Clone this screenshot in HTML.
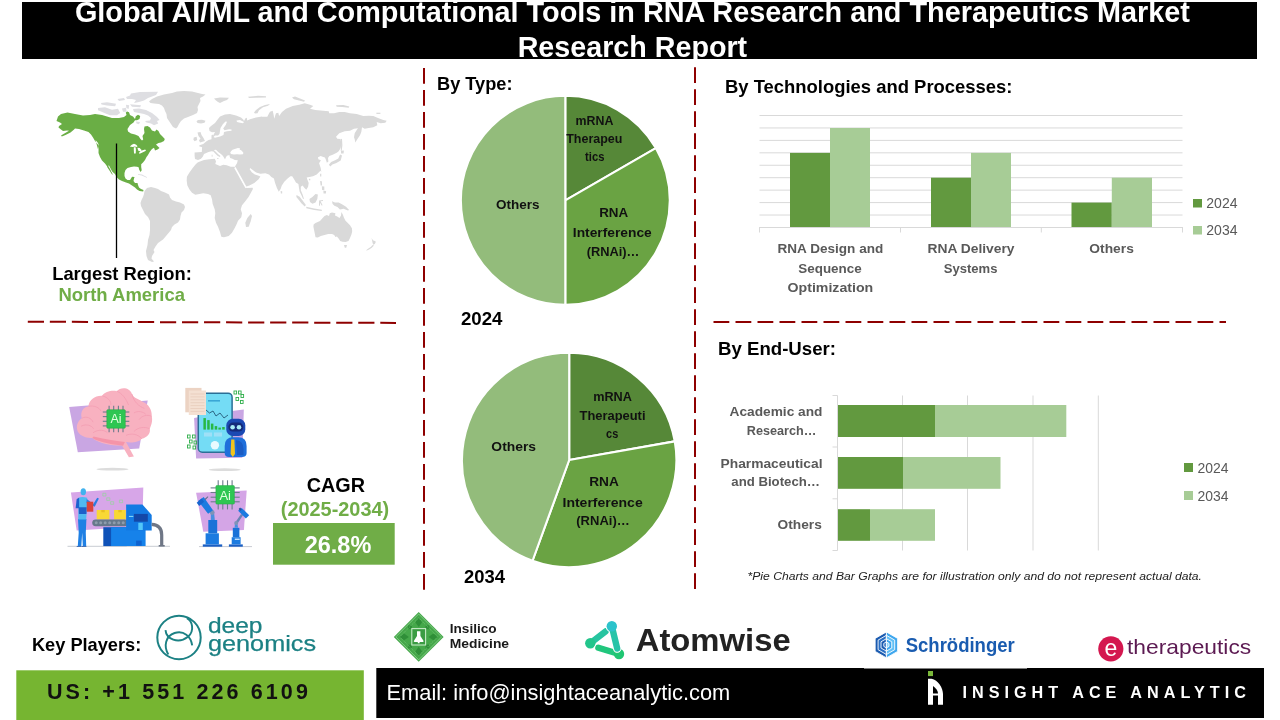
<!DOCTYPE html>
<html lang="en"><head><meta charset="utf-8"><title>Global AI/ML and Computational Tools in RNA Research and Therapeutics Market Research Report</title>
<style>
html,body{margin:0;padding:0;background:#fff;}
body{width:1280px;height:720px;overflow:hidden;}
svg{display:block;font-family:"Liberation Sans", Arial, sans-serif;}
</style></head><body>
<svg width="1280" height="720" viewBox="0 0 1280 720">
<rect x="22" y="2" width="1235" height="57" fill="#000"/>
<text x="632.4" y="22" font-size="28.8" font-weight="bold" fill="#fff" text-anchor="middle" textLength="1115" lengthAdjust="spacingAndGlyphs" >Global AI/ML and Computational Tools in RNA Research and Therapeutics Market</text>
<text x="632.4" y="57" font-size="28.8" font-weight="bold" fill="#fff" text-anchor="middle" textLength="229.5" lengthAdjust="spacingAndGlyphs" >Research Report</text>
<line x1="424" y1="68" x2="424" y2="590.4" stroke="#8e0000" stroke-width="2" stroke-dasharray="15.8 6.2"/>
<line x1="695" y1="67.3" x2="695" y2="589.5" stroke="#8e0000" stroke-width="2" stroke-dasharray="15.8 6.2"/>
<line x1="27.8" y1="321.7" x2="396" y2="322.9" stroke="#8e0000" stroke-width="2" stroke-dasharray="16.2 5.83"/>
<line x1="713.5" y1="322" x2="1226" y2="322" stroke="#8e0000" stroke-width="2" stroke-dasharray="15.8 6.2"/>
<g id="map">
<path d="M131.0,93.5 L140.0,92.0 L158.0,91.8 L156.0,95.0 L148.0,98.0 L144.0,100.5 L139.0,102.0 L134.0,103.0 L136.0,100.0 L132.0,99.0 L127.0,99.0 L126.0,97.0 L130.0,95.5Z" fill="#dedee2" />
<path d="M98.0,108.0 L105.0,107.2 L112.0,109.8 L118.0,108.8 L120.2,113.0 L117.0,115.2 L110.0,115.2 L105.0,113.2 L101.0,111.6 L98.0,110.2Z" fill="#dedee2" />
<path d="M101.0,103.0 L107.0,102.3 L116.0,103.8 L115.2,106.2 L107.0,105.6 L101.5,104.5Z" fill="#dedee2" />
<path d="M117.5,99.0 L124.0,98.0 L125.0,100.0 L119.0,101.0Z" fill="#dedee2" />
<path d="M130.0,104.3 L141.0,105.3 L140.2,107.2 L132.0,106.7Z" fill="#dedee2" />
<path d="M122.0,108.5 L126.0,107.8 L126.6,111.7 L123.0,111.7Z" fill="#dedee2" />
<path d="M126.0,104.8 L129.2,105.3 L128.6,109.0 L126.4,108.0Z" fill="#dedee2" />
<path d="M133.0,109.0 L139.0,108.4 L146.0,110.0 L152.0,113.0 L157.0,117.0 L159.6,120.0 L157.0,121.0 L158.2,123.5 L154.0,125.2 L151.0,123.6 L146.5,122.6 L145.0,121.0 L150.0,120.5 L151.0,118.0 L148.0,115.5 L144.0,114.0 L139.0,113.0 L134.0,112.0Z" fill="#dedee2" />
<path d="M136.0,121.5 L140.0,122.0 L139.0,124.2 L136.5,123.6Z" fill="#dedee2" />
<path d="M138.0,174.0 L142.0,174.6 L147.2,177.2 L146.8,177.8 L141.6,175.4 L138.0,174.8Z" fill="#dedee2" />
<path d="M149.0,101.5 L152.0,99.0 L157.0,96.5 L164.0,94.5 L172.0,93.0 L177.0,91.5 L184.0,91.0 L192.0,91.5 L198.0,93.0 L202.0,94.0 L205.5,94.5 L203.0,96.5 L200.0,98.0 L200.5,101.0 L199.0,104.0 L197.5,107.0 L198.0,110.0 L197.0,113.0 L193.0,115.0 L188.0,117.0 L184.0,118.5 L181.0,121.0 L179.0,124.0 L177.5,127.0 L176.0,128.5 L173.0,127.0 L171.0,124.0 L169.0,121.0 L167.0,118.0 L166.5,114.0 L165.0,111.0 L164.0,108.0 L162.0,105.5 L159.0,104.0 L154.0,103.5 L150.5,103.0Z" fill="#d9d9d9" />
<path d="M196.5,121.2 L198.0,120.0 L202.0,119.8 L205.5,120.8 L204.5,122.8 L201.0,123.6 L197.5,123.0Z" fill="#d9d9d9" />
<path d="M144.5,191.0 L147.0,188.0 L151.0,187.0 L155.0,188.0 L158.0,189.0 L161.0,191.0 L165.0,192.5 L169.0,194.5 L170.0,197.5 L172.0,200.0 L176.0,201.5 L180.0,202.5 L184.0,204.5 L185.0,207.0 L184.0,210.0 L181.5,212.5 L180.5,216.0 L180.0,219.5 L178.0,222.5 L174.5,224.5 L172.0,227.0 L171.0,230.0 L171.0,230.0 L166.0,236.0 L163.0,239.5 L158.0,243.0 L155.5,246.5 L153.5,250.0 L154.5,252.0 L152.0,256.0 L151.5,258.5 L154.0,261.5 L152.0,262.0 L148.0,260.0 L146.5,256.0 L146.0,251.0 L147.5,245.0 L148.0,240.0 L149.5,235.0 L150.0,230.0 L150.0,225.0 L150.0,221.0 L148.0,217.0 L145.0,214.0 L143.0,210.0 L141.0,206.0 L140.5,203.0 L141.5,200.0 L143.0,197.0 L144.0,194.0Z" fill="#d9d9d9" />
<path d="M198.7,162.0 L204.0,160.0 L209.3,159.3 L214.7,158.7 L216.0,161.3 L215.3,164.0 L220.0,166.0 L223.3,164.7 L226.7,165.3 L230.7,166.7 L234.7,166.7 L236.7,170.0 L239.3,176.0 L242.0,181.3 L244.7,186.0 L246.7,188.0 L252.7,187.7 L252.9,189.1 L251.3,192.0 L248.7,196.7 L245.3,201.3 L242.0,205.3 L240.7,209.3 L242.0,213.3 L241.3,217.3 L238.0,220.7 L236.7,224.0 L234.7,228.0 L232.0,232.7 L228.7,236.0 L224.0,237.3 L221.3,236.7 L220.0,232.0 L218.0,226.7 L216.0,222.7 L214.7,218.0 L215.3,213.3 L214.7,209.3 L212.7,204.0 L212.0,199.3 L210.7,195.3 L208.0,194.0 L203.3,193.3 L199.3,194.0 L195.3,194.7 L192.0,192.7 L189.3,189.3 L187.3,185.3 L186.7,180.7 L186.9,176.7 L189.3,172.7 L192.7,168.0 L195.3,164.7 L197.3,162.7Z" fill="#d9d9d9" />
<path d="M250.7,214.0 L252.0,216.0 L250.7,221.3 L248.7,226.7 L246.0,226.9 L245.3,222.7 L247.3,218.0Z" fill="#d9d9d9" />
<path d="M313.6,224.5 L315.5,223.0 L320.0,221.1 L322.2,218.5 L324.5,215.9 L326.8,215.1 L329.0,215.9 L329.8,213.2 L332.0,212.5 L335.4,213.2 L335.0,215.5 L337.2,216.6 L339.5,218.1 L341.0,215.5 L341.4,212.1 L342.9,214.8 L344.0,217.8 L345.5,220.8 L347.8,223.0 L350.0,225.2 L351.9,228.2 L352.2,231.2 L351.5,234.2 L350.0,238.0 L348.5,241.0 L345.5,242.1 L342.5,241.8 L340.2,241.0 L338.8,238.8 L336.9,236.5 L335.4,236.9 L334.2,235.0 L332.0,233.9 L328.2,233.9 L324.5,235.0 L320.8,236.1 L317.8,237.6 L315.5,237.2 L314.8,233.5 L314.0,229.8 L313.4,226.8Z" fill="#d9d9d9" />
<path d="M344.0,245.1 L347.0,245.1 L346.2,247.8 L344.8,247.8Z" fill="#d9d9d9" />
<path d="M371.6,238.0 L372.9,240.2 L374.8,241.0 L375.9,241.8 L374.8,244.0 L373.2,244.8 L372.5,242.5Z" fill="#d9d9d9" />
<path d="M372.6,245.1 L374.0,245.5 L371.8,247.8 L369.1,249.4 L366.9,250.6 L366.1,250.2 L368.4,248.5 L371.0,246.8Z" fill="#d9d9d9" />
<path d="M194.6,152.4 L201.8,152.0 L202.1,147.3 L199.1,146.2 L199.5,145.2 L203.2,144.1 L206.2,141.5 L208.5,140.0 L211.5,139.2 L211.5,135.5 L212.2,134.4 L213.2,135.5 L215.0,132.0 L212.0,132.2 L209.5,131.0 L209.0,128.0 L211.0,126.0 L215.0,123.0 L218.0,119.0 L220.0,116.5 L225.0,114.5 L230.0,114.0 L236.0,115.5 L241.0,117.5 L243.2,119.5 L244.0,121.0 L245.5,118.2 L246.8,117.8 L247.2,120.5 L250.0,119.2 L256.0,117.5 L262.0,116.5 L262.0,116.7 L267.3,116.7 L268.7,114.0 L270.0,111.7 L272.7,110.7 L273.6,114.7 L274.3,118.7 L275.3,115.3 L276.0,113.3 L278.3,112.7 L279.1,116.0 L282.0,112.0 L286.0,108.7 L292.7,106.0 L299.3,104.7 L304.7,103.3 L310.0,104.7 L313.3,106.0 L310.0,108.7 L315.3,110.0 L323.3,110.7 L328.7,111.3 L329.3,113.3 L334.0,113.3 L339.3,112.0 L344.7,112.0 L350.0,113.3 L356.7,114.0 L363.3,116.0 L368.7,115.7 L373.3,116.0 L378.0,118.0 L383.3,120.0 L386.7,120.7 L385.3,122.7 L380.7,123.3 L376.7,122.0 L377.3,125.3 L373.3,127.3 L368.7,128.0 L364.7,128.7 L362.0,127.3 L361.3,132.0 L360.0,135.3 L357.3,139.3 L355.3,142.4 L354.7,139.3 L354.0,137.3 L354.7,133.3 L356.7,130.0 L358.0,128.3 L354.0,128.7 L350.0,130.7 L344.7,131.3 L339.3,133.3 L336.0,136.7 L337.3,138.7 L340.4,138.9 L341.5,142.7 L340.7,148.0 L338.7,151.3 L336.7,152.7 L332.7,154.7 L329.3,156.0 L328.0,158.0 L328.4,161.6 L326.9,162.7 L325.7,159.3 L324.9,157.6 L323.3,157.1 L320.7,156.0 L318.0,157.3 L318.3,159.3 L320.9,160.3 L319.1,163.3 L320.7,168.0 L321.3,172.0 L320.4,170.8 L316.7,174.4 L313.0,176.3 L309.4,177.1 L306.7,177.5 L307.5,179.9 L308.7,183.0 L308.1,186.7 L306.3,189.8 L304.5,187.9 L302.6,185.4 L300.8,186.7 L300.8,190.3 L302.6,194.6 L304.0,198.9 L303.0,198.7 L301.4,195.2 L299.6,191.6 L299.0,187.9 L298.4,184.0 L295.9,182.4 L294.1,179.3 L292.2,176.3 L290.4,176.3 L287.3,178.7 L284.3,181.8 L281.8,185.4 L280.6,189.1 L278.8,191.8 L276.9,187.9 L275.1,183.0 L273.9,178.4 L271.4,176.9 L269.0,174.4 L265.3,173.2 L260.4,173.8 L256.2,172.6 L253.1,170.2 L250.1,168.1 L249.7,169.2 L251.7,172.2 L254.8,174.6 L258.0,175.6 L260.4,176.5 L258.6,179.3 L254.3,183.0 L249.4,185.5 L245.8,186.7 L243.6,183.0 L240.0,176.3 L237.0,171.2 L235.2,167.6 L235.1,166.2 L237.0,163.2 L237.8,160.2 L234.8,159.9 L232.5,158.8 L230.2,158.0 L229.5,156.1 L229.5,155.0 L226.9,155.8 L225.8,157.6 L225.0,159.5 L224.2,158.0 L222.8,155.8 L221.2,154.2 L218.2,152.0 L216.0,149.8 L213.8,150.1 L216.0,152.0 L218.2,154.2 L220.5,156.1 L219.8,156.9 L217.5,155.8 L215.2,153.5 L213.4,151.6 L211.5,151.2 L208.5,152.0 L204.0,153.9 L202.9,156.5 L201.0,158.8 L198.0,159.9 L195.0,159.1 L194.6,155.8Z" fill="#d9d9d9" />
<path d="M197.5,132.5 L200.5,132.0 L201.5,135.0 L203.5,138.0 L205.0,141.0 L200.0,142.5 L199.0,140.2 L200.5,138.5 L198.5,136.0Z" fill="#d9d9d9" />
<path d="M193.8,137.6 L196.6,136.8 L197.2,140.0 L194.6,141.2 L193.4,139.8Z" fill="#d9d9d9" />
<path d="M214.0,98.5 L220.0,97.5 L229.0,97.8 L227.0,100.0 L224.0,101.0 L220.0,103.0 L218.0,102.0 L216.0,100.5Z" fill="#d9d9d9" />
<path d="M248.0,96.8 L258.0,95.8 L266.0,96.2 L266.0,97.5 L256.0,97.8 L249.0,98.0Z" fill="#d9d9d9" />
<path d="M254.0,112.5 L256.0,110.0 L260.0,107.0 L265.0,105.0 L270.0,104.0 L268.0,105.7 L263.0,107.2 L259.0,110.2 L257.5,113.2 L255.0,113.6Z" fill="#d9d9d9" />
<path d="M292.0,97.5 L295.0,96.5 L300.0,98.5 L305.0,100.5 L304.0,101.8 L299.0,100.5 L294.0,99.2Z" fill="#d9d9d9" />
<path d="M336.0,105.3 L343.3,105.1 L349.3,106.4 L348.7,107.7 L342.0,106.9 L336.7,106.7Z" fill="#d9d9d9" />
<path d="M376.4,112.7 L380.4,112.7 L380.4,113.9 L376.4,113.9Z" fill="#d9d9d9" />
<path d="M340.7,138.7 L342.0,138.9 L342.4,145.3 L341.7,150.7 L340.7,150.7 L341.1,145.3Z" fill="#d9d9d9" />
<path d="M340.9,150.7 L343.9,150.4 L343.6,153.6 L341.1,153.6Z" fill="#d9d9d9" />
<path d="M340.1,154.4 L342.0,155.5 L340.7,160.5 L336.4,163.1 L332.4,164.4 L330.3,166.4 L328.9,164.8 L331.1,162.1 L335.1,160.3 L338.3,158.4Z" fill="#d9d9d9" />
<path d="M320.1,173.8 L321.3,173.8 L321.3,176.4 L320.1,176.4Z" fill="#d9d9d9" />
<path d="M308.9,178.8 L310.3,178.8 L310.3,180.3 L308.9,180.3Z" fill="#d9d9d9" />
<path d="M320.1,180.9 L321.8,181.2 L322.1,185.4 L320.6,185.4Z" fill="#d9d9d9" />
<path d="M321.8,186.2 L324.3,186.4 L324.3,190.3 L322.1,190.1Z" fill="#d9d9d9" />
<path d="M323.4,190.8 L326.1,191.1 L325.9,193.6 L323.5,193.5Z" fill="#d9d9d9" />
<path d="M309.4,198.9 L312.4,197.1 L315.5,194.0 L317.9,194.6 L317.3,198.9 L315.5,202.6 L312.4,203.8 L310.0,202.0Z" fill="#d9d9d9" />
<path d="M296.5,195.0 L299.6,196.8 L302.6,200.5 L305.9,205.0 L304.7,206.4 L301.4,203.3 L298.4,199.6 L296.4,197.1Z" fill="#d9d9d9" />
<path d="M306.3,206.8 L314.2,208.6 L321.8,209.8 L321.8,210.9 L314.2,210.0 L306.3,208.2Z" fill="#d9d9d9" />
<path d="M319.1,200.4 L323.0,200.1 L323.0,201.1 L320.6,201.3 L322.6,205.3 L321.6,205.6 L320.1,202.8 L319.9,205.8 L319.0,205.8Z" fill="#d9d9d9" />
<path d="M332.0,201.3 L335.0,202.6 L338.7,202.6 L342.4,204.4 L346.0,206.8 L349.1,209.9 L347.9,210.6 L343.6,208.8 L339.9,209.4 L337.5,207.0 L334.4,205.8 L332.6,203.9Z" fill="#d9d9d9" />
<path d="M280.6,190.9 L282.2,191.3 L282.2,193.4 L280.9,193.4Z" fill="#d9d9d9" />
<path d="M217.1,158.0 L218.7,158.2 L218.4,159.1 L217.2,158.9Z" fill="#d9d9d9" />
<path d="M211.7,154.8 L212.5,154.8 L212.5,156.7 L211.7,156.7Z" fill="#d9d9d9" />
<path d="M56.5,121.0 L58.0,116.5 L61.0,114.0 L67.5,112.5 L75.0,114.0 L83.0,115.5 L90.0,115.0 L95.0,114.0 L102.0,115.0 L107.0,116.5 L112.0,118.0 L119.0,118.0 L124.0,117.0 L126.5,115.0 L125.8,112.5 L127.2,111.4 L129.0,112.2 L130.0,115.0 L133.0,116.5 L135.0,119.0 L135.8,116.2 L138.0,114.8 L140.2,116.0 L139.5,119.0 L137.0,120.2 L135.0,120.2 L133.5,122.5 L130.0,125.0 L127.5,129.0 L128.0,131.5 L131.0,133.5 L135.0,134.5 L138.5,136.0 L140.5,139.0 L142.0,140.6 L143.2,139.5 L142.5,136.0 L144.5,133.0 L144.0,129.0 L144.5,126.5 L147.5,126.0 L150.0,127.5 L152.0,130.5 L155.0,131.5 L156.5,129.5 L158.5,131.0 L160.0,134.0 L162.5,136.5 L164.8,139.0 L164.0,141.0 L161.0,142.5 L158.5,143.0 L156.0,144.5 L157.5,146.0 L159.5,148.0 L157.5,149.5 L155.0,150.5 L154.0,147.8 L152.0,149.0 L150.0,151.5 L148.5,154.0 L148.0,155.0 L146.5,157.0 L145.0,160.0 L143.0,162.5 L141.2,164.3 L141.2,167.0 L141.7,170.2 L140.6,172.0 L139.2,169.7 L138.6,167.2 L137.0,166.8 L134.0,166.5 L131.0,167.0 L127.5,168.0 L125.5,170.0 L124.5,173.0 L124.5,176.0 L125.5,178.5 L127.5,180.0 L130.0,180.0 L131.0,178.5 L132.0,176.8 L134.6,177.0 L134.0,178.5 L133.5,181.0 L135.0,183.0 L137.5,183.0 L138.0,185.0 L139.0,187.5 L141.0,189.0 L143.5,190.0 L143.2,191.6 L139.5,191.0 L137.0,189.5 L135.0,187.5 L132.0,185.5 L129.0,183.5 L126.0,182.5 L122.0,181.0 L119.0,179.5 L116.5,177.0 L115.0,174.0 L112.0,171.5 L108.0,167.5 L105.0,163.5 L102.0,160.5 L100.0,157.0 L98.5,153.0 L98.0,149.0 L99.0,146.0 L98.0,143.0 L95.5,140.0 L99.0,153.0 L98.5,149.0 L99.0,146.0 L97.5,144.0 L95.0,141.0 L93.0,137.5 L91.0,134.5 L88.5,132.0 L84.0,130.5 L79.0,129.0 L75.0,128.5 L73.8,129.8 L70.5,132.4 L65.5,134.9 L61.8,136.4 L61.0,135.6 L63.5,134.0 L66.5,132.2 L69.0,130.8 L67.0,130.5 L63.0,131.0 L61.0,129.5 L58.5,127.5 L59.0,126.0 L62.0,124.0 L60.0,122.5Z" fill="#6aae45" />
<path d="M106.8,165.0 L108.2,165.5 L110.5,169.5 L112.8,174.0 L112.2,174.8 L109.8,171.0 L107.5,167.5Z" fill="#6aae45" />
<path d="M129.8,146.4 L131.8,144.8 L134.0,143.8 L136.2,144.8 L137.6,146.2 L136.5,147.0 L135.0,146.6 L132.5,147.0Z" fill="#fff" />
<path d="M133.8,147.2 L135.6,147.2 L135.9,150.0 L135.7,153.4 L134.0,153.4 L133.8,150.0Z" fill="#fff" />
<path d="M137.4,147.8 L139.7,148.0 L141.6,150.0 L140.8,151.6 L138.3,150.8Z" fill="#fff" />
<path d="M141.0,150.8 L145.2,149.6 L146.0,150.8 L142.4,152.4 L139.7,153.8 L138.8,153.0Z" fill="#fff" />
<path d="M213.5,137.0 L215.0,137.8 L220.0,136.5 L223.5,135.0 L224.0,132.0 L227.0,131.2 L231.5,130.8 L231.5,129.6 L229.0,129.3 L224.5,130.3 L223.2,128.5 L225.7,125.0 L227.0,121.8 L225.5,121.5 L223.0,124.0 L220.5,128.0 L220.0,131.0 L219.5,134.0 L218.0,135.6 L215.0,135.6Z" fill="#fff" />
<path d="M236.5,120.5 L240.0,120.0 L244.0,122.0 L243.0,123.2 L239.0,122.5 L237.0,122.0Z" fill="#fff" />
<path d="M231.0,151.2 L232.5,149.8 L234.8,149.0 L237.8,147.9 L240.0,148.2 L239.6,149.4 L241.5,150.5 L243.4,152.8 L243.0,154.2 L240.0,154.6 L237.0,154.2 L234.0,154.6 L231.0,153.9 L230.2,152.8Z" fill="#fff" />
<path d="M108.2,165.8 L109.0,165.6 L113.2,173.4 L112.6,173.8Z" fill="#fff" />
<line x1="234.9" y1="167.5" x2="246.2" y2="187.8" stroke="#fff" stroke-width="1.6"/>
</g>
<line x1="116.5" y1="143.5" x2="116.5" y2="258" stroke="#000" stroke-width="1.3"/>
<text x="52.2" y="280.3" font-size="18.4" font-weight="bold" fill="#000" textLength="139.7" lengthAdjust="spacingAndGlyphs" >Largest Region:</text>
<text x="58.4" y="301" font-size="18.4" font-weight="bold" fill="#70ad47" textLength="126.6" lengthAdjust="spacingAndGlyphs" >North America</text>
<text x="437" y="90" font-size="18.4" font-weight="bold" fill="#000" textLength="75.5" lengthAdjust="spacingAndGlyphs" >By Type:</text>
<path d="M565.3,200.3 L565.30,95.80 A104.5,104.5 0 0 1 655.80,148.05Z" fill="#568838" stroke="#fff" stroke-width="2.1" stroke-linejoin="round"/>
<path d="M565.3,200.3 L655.80,148.05 A104.5,104.5 0 0 1 565.30,304.80Z" fill="#6aa343" stroke="#fff" stroke-width="2.1" stroke-linejoin="round"/>
<path d="M565.3,200.3 L565.30,304.80 A104.5,104.5 0 0 1 565.30,95.80Z" fill="#93bc7b" stroke="#fff" stroke-width="2.1" stroke-linejoin="round"/>
<text x="594.5" y="124.8" font-size="12.6" font-weight="bold" fill="#111" text-anchor="middle" textLength="37.8" lengthAdjust="spacingAndGlyphs" >mRNA</text>
<text x="594.3" y="142.5" font-size="12.6" font-weight="bold" fill="#111" text-anchor="middle" textLength="56.2" lengthAdjust="spacingAndGlyphs" >Therapeu</text>
<text x="594.7" y="160.7" font-size="12.6" font-weight="bold" fill="#111" text-anchor="middle" textLength="19.4" lengthAdjust="spacingAndGlyphs" >tics</text>
<text x="517.7" y="208.6" font-size="12.6" font-weight="bold" fill="#111" text-anchor="middle" textLength="43.5" lengthAdjust="spacingAndGlyphs" >Others</text>
<text x="613.7" y="216.9" font-size="13" font-weight="bold" fill="#111" text-anchor="middle" textLength="29" lengthAdjust="spacingAndGlyphs" >RNA</text>
<text x="612.3" y="237" font-size="13" font-weight="bold" fill="#111" text-anchor="middle" textLength="79" lengthAdjust="spacingAndGlyphs" >Interference</text>
<text x="613" y="256.3" font-size="13" font-weight="bold" fill="#111" text-anchor="middle" textLength="52.7" lengthAdjust="spacingAndGlyphs" >(RNAi)…</text>
<text x="461" y="325" font-size="18.67" font-weight="bold" fill="#000" textLength="41.5" lengthAdjust="spacingAndGlyphs" >2024</text>
<path d="M569.2,460 L569.20,352.80 A107.2,107.2 0 0 1 674.77,441.38Z" fill="#568838" stroke="#fff" stroke-width="2.1" stroke-linejoin="round"/>
<path d="M569.2,460 L674.77,441.38 A107.2,107.2 0 0 1 532.54,560.74Z" fill="#6aa343" stroke="#fff" stroke-width="2.1" stroke-linejoin="round"/>
<path d="M569.2,460 L532.54,560.74 A107.2,107.2 0 0 1 569.20,352.80Z" fill="#93bc7b" stroke="#fff" stroke-width="2.1" stroke-linejoin="round"/>
<text x="612.5" y="401.4" font-size="12.6" font-weight="bold" fill="#111" text-anchor="middle" textLength="38.7" lengthAdjust="spacingAndGlyphs" >mRNA</text>
<text x="612.5" y="420.2" font-size="12.6" font-weight="bold" fill="#111" text-anchor="middle" textLength="66" lengthAdjust="spacingAndGlyphs" >Therapeuti</text>
<text x="612.2" y="437.5" font-size="12.6" font-weight="bold" fill="#111" text-anchor="middle" textLength="12.2" lengthAdjust="spacingAndGlyphs" >cs</text>
<text x="513.7" y="450.5" font-size="12.6" font-weight="bold" fill="#111" text-anchor="middle" textLength="44.7" lengthAdjust="spacingAndGlyphs" >Others</text>
<text x="604" y="486.3" font-size="13" font-weight="bold" fill="#111" text-anchor="middle" textLength="29.6" lengthAdjust="spacingAndGlyphs" >RNA</text>
<text x="602.6" y="506.8" font-size="13" font-weight="bold" fill="#111" text-anchor="middle" textLength="80.2" lengthAdjust="spacingAndGlyphs" >Interference</text>
<text x="603" y="524.9" font-size="13" font-weight="bold" fill="#111" text-anchor="middle" textLength="53.4" lengthAdjust="spacingAndGlyphs" >(RNAi)…</text>
<text x="464" y="582.7" font-size="18.67" font-weight="bold" fill="#000" textLength="41" lengthAdjust="spacingAndGlyphs" >2034</text>
<text x="725" y="92.5" font-size="18.4" font-weight="bold" fill="#000" textLength="287.5" lengthAdjust="spacingAndGlyphs" >By Technologies and Processes:</text>
<line x1="759.5" y1="115.50" x2="1182.5" y2="115.50" stroke="#d9d9d9" stroke-width="1"/>
<line x1="759.5" y1="127.94" x2="1182.5" y2="127.94" stroke="#d9d9d9" stroke-width="1"/>
<line x1="759.5" y1="140.38" x2="1182.5" y2="140.38" stroke="#d9d9d9" stroke-width="1"/>
<line x1="759.5" y1="152.82" x2="1182.5" y2="152.82" stroke="#d9d9d9" stroke-width="1"/>
<line x1="759.5" y1="165.26" x2="1182.5" y2="165.26" stroke="#d9d9d9" stroke-width="1"/>
<line x1="759.5" y1="177.70" x2="1182.5" y2="177.70" stroke="#d9d9d9" stroke-width="1"/>
<line x1="759.5" y1="190.14" x2="1182.5" y2="190.14" stroke="#d9d9d9" stroke-width="1"/>
<line x1="759.5" y1="202.58" x2="1182.5" y2="202.58" stroke="#d9d9d9" stroke-width="1"/>
<line x1="759.5" y1="215.02" x2="1182.5" y2="215.02" stroke="#d9d9d9" stroke-width="1"/>
<rect x="790" y="152.9" width="40" height="74.5" fill="#62993f"/>
<rect x="830" y="128" width="40" height="99.4" fill="#a7cc96"/>
<rect x="931" y="177.7" width="40" height="49.70000000000002" fill="#62993f"/>
<rect x="971" y="152.9" width="40" height="74.5" fill="#a7cc96"/>
<rect x="1071.5" y="202.6" width="40.3" height="24.80000000000001" fill="#62993f"/>
<rect x="1111.8" y="177.7" width="40.2" height="49.70000000000002" fill="#a7cc96"/>
<line x1="759.5" y1="227.5" x2="1182.5" y2="227.5" stroke="#d9d9d9" stroke-width="1"/>
<line x1="759.5" y1="227" x2="759.5" y2="232.5" stroke="#d9d9d9" stroke-width="1"/>
<line x1="900.5" y1="227" x2="900.5" y2="232.5" stroke="#d9d9d9" stroke-width="1"/>
<line x1="1041.3" y1="227" x2="1041.3" y2="232.5" stroke="#d9d9d9" stroke-width="1"/>
<line x1="1182.5" y1="227" x2="1182.5" y2="232.5" stroke="#d9d9d9" stroke-width="1"/>
<text x="830.4" y="252.5" font-size="13.3" font-weight="bold" fill="#595959" text-anchor="middle" textLength="105.7" lengthAdjust="spacingAndGlyphs" >RNA Design and</text>
<text x="830" y="272.5" font-size="13.3" font-weight="bold" fill="#595959" text-anchor="middle" textLength="63.5" lengthAdjust="spacingAndGlyphs" >Sequence</text>
<text x="830.4" y="291.7" font-size="13.3" font-weight="bold" fill="#595959" text-anchor="middle" textLength="85.7" lengthAdjust="spacingAndGlyphs" >Optimization</text>
<text x="971" y="252.5" font-size="13.3" font-weight="bold" fill="#595959" text-anchor="middle" textLength="87" lengthAdjust="spacingAndGlyphs" >RNA Delivery</text>
<text x="970.6" y="272.5" font-size="13.3" font-weight="bold" fill="#595959" text-anchor="middle" textLength="53.7" lengthAdjust="spacingAndGlyphs" >Systems</text>
<text x="1111.6" y="252.5" font-size="13.3" font-weight="bold" fill="#595959" text-anchor="middle" textLength="44.5" lengthAdjust="spacingAndGlyphs" >Others</text>
<rect x="1193" y="199" width="9" height="8.5" fill="#62993f"/>
<text x="1206.3" y="208" font-size="14.6" font-weight="normal" fill="#595959" textLength="31.2" lengthAdjust="spacingAndGlyphs" >2024</text>
<rect x="1193" y="226" width="9" height="8.5" fill="#a7cc96"/>
<text x="1206.3" y="235" font-size="14.6" font-weight="normal" fill="#595959" textLength="31.2" lengthAdjust="spacingAndGlyphs" >2034</text>
<text x="718" y="355" font-size="18.4" font-weight="bold" fill="#000" textLength="118" lengthAdjust="spacingAndGlyphs" >By End-User:</text>
<line x1="902.5" y1="395.5" x2="902.5" y2="550.5" stroke="#d9d9d9" stroke-width="1"/>
<line x1="967.5" y1="395.5" x2="967.5" y2="550.5" stroke="#d9d9d9" stroke-width="1"/>
<line x1="1033" y1="395.5" x2="1033" y2="550.5" stroke="#d9d9d9" stroke-width="1"/>
<line x1="1098.3" y1="395.5" x2="1098.3" y2="550.5" stroke="#d9d9d9" stroke-width="1"/>
<rect x="838" y="405" width="97" height="32" fill="#62993f"/>
<rect x="935" y="405" width="131.3" height="32" fill="#a7cc96"/>
<rect x="838" y="457" width="65" height="31.80000000000001" fill="#62993f"/>
<rect x="903" y="457" width="97.5" height="31.80000000000001" fill="#a7cc96"/>
<rect x="838" y="509.2" width="32" height="31.599999999999966" fill="#62993f"/>
<rect x="870" y="509.2" width="65" height="31.599999999999966" fill="#a7cc96"/>
<line x1="837.5" y1="395.5" x2="837.5" y2="550.5" stroke="#d9d9d9" stroke-width="1"/>
<line x1="832.5" y1="395.5" x2="837.5" y2="395.5" stroke="#d9d9d9" stroke-width="1"/>
<line x1="832.5" y1="447" x2="837.5" y2="447" stroke="#d9d9d9" stroke-width="1"/>
<line x1="832.5" y1="498.8" x2="837.5" y2="498.8" stroke="#d9d9d9" stroke-width="1"/>
<line x1="832.5" y1="550.5" x2="837.5" y2="550.5" stroke="#d9d9d9" stroke-width="1"/>
<text x="822.5" y="415.8" font-size="13.3" font-weight="bold" fill="#595959" text-anchor="end" textLength="93" lengthAdjust="spacingAndGlyphs" >Academic and</text>
<text x="816.3" y="434.5" font-size="13.3" font-weight="bold" fill="#595959" text-anchor="end" textLength="69.5" lengthAdjust="spacingAndGlyphs" >Research…</text>
<text x="822.5" y="467.5" font-size="13.3" font-weight="bold" fill="#595959" text-anchor="end" textLength="102" lengthAdjust="spacingAndGlyphs" >Pharmaceutical</text>
<text x="820" y="486.3" font-size="13.3" font-weight="bold" fill="#595959" text-anchor="end" textLength="88.7" lengthAdjust="spacingAndGlyphs" >and Biotech…</text>
<text x="821.8" y="528.8" font-size="13.3" font-weight="bold" fill="#595959" text-anchor="end" textLength="44.3" lengthAdjust="spacingAndGlyphs" >Others</text>
<rect x="1184" y="463" width="9" height="9" fill="#62993f"/>
<text x="1197.5" y="472.5" font-size="14.6" font-weight="normal" fill="#595959" textLength="31" lengthAdjust="spacingAndGlyphs" >2024</text>
<rect x="1184" y="491" width="9" height="9" fill="#a7cc96"/>
<text x="1197.5" y="500.5" font-size="14.6" font-weight="normal" fill="#595959" textLength="31" lengthAdjust="spacingAndGlyphs" >2034</text>
<text x="747.5" y="580" font-size="11.2" font-weight="normal" fill="#222" font-style="italic" textLength="454.5" lengthAdjust="spacingAndGlyphs" >*Pie Charts and Bar Graphs are for illustration only and do not represent actual data.</text>
<text x="335.8" y="491.7" font-size="20" font-weight="bold" fill="#000" text-anchor="middle" textLength="58.3" lengthAdjust="spacingAndGlyphs" >CAGR</text>
<text x="335" y="515.5" font-size="20" font-weight="bold" fill="#70ad47" text-anchor="middle" textLength="108.4" lengthAdjust="spacingAndGlyphs" >(2025-2034)</text>
<rect x="273" y="523" width="121.7" height="41.7" fill="#70ad47"/>
<text x="338" y="552.8" font-size="24" font-weight="bold" fill="#fff" text-anchor="middle" textLength="66.6" lengthAdjust="spacingAndGlyphs" >26.8%</text>
<g id="icons"><ellipse cx="112.5" cy="469.2" rx="16" ry="1.4" fill="#dcdcdc"/>
<ellipse cx="224.7" cy="469.7" rx="16" ry="1.4" fill="#dcdcdc"/>
<path d="M69.2,407 L147.7,400.4 L139.2,448.6 L77.8,452.3Z" fill="#c9a6e3"/>
<path d="M77.2,430.1 C75.8,423.5 79.8,419.6 81.8,418.3 C79.8,411.7 83.7,406.4 88.4,406.4 C89.0,399.8 95.6,395.2 102.2,395.8 C104.9,391.2 112.8,389.9 116.7,391.2 C120.7,386.6 129.9,387.3 131.9,393.9 C133.9,398.5 139.2,398.5 142.5,401.8 C148.4,403.7 152.3,410.3 151.7,416.3 C153.0,420.9 151.0,426.2 149.7,428.8 C151.0,432.8 147.1,438.0 141.8,438.7 C139.2,442.0 131.2,443.3 126.0,442.0 L133.9,456.5 L128.9,457.2 L122.0,445.4 C118.0,446.0 99.6,444.6 92.3,438.0 C86.4,438.7 78.5,435.4 77.2,430.1Z" fill="#f8b1c0"/>
<path d="M92.3,438.0 C99.6,442.7 115.4,444.9 123.1,445.7 L124.9,442.0 C115.4,440.9 103.5,439.0 93.6,436.5Z" fill="#f594a9"/>
<path d="M81.8,418.3 C86.4,415.6 91.7,418.3 93.0,422.2" fill="none" stroke="#f29bb0" stroke-width="0.7"/>
<path d="M88.4,406.4 C94.3,405.1 99.6,407.7 100.9,411.0" fill="none" stroke="#f29bb0" stroke-width="0.7"/>
<path d="M102.2,395.8 C107.5,397.2 111.5,401.1 110.8,405.1" fill="none" stroke="#f29bb0" stroke-width="0.7"/>
<path d="M116.7,391.2 C122.0,393.2 126.0,398.5 128.6,405.1" fill="none" stroke="#f29bb0" stroke-width="0.7"/>
<path d="M131.9,393.9 C133.9,402.4 139.2,406.4 144.4,408.4" fill="none" stroke="#f29bb0" stroke-width="0.7"/>
<path d="M151.7,416.3 C147.1,414.3 141.8,415.6 139.2,419.6" fill="none" stroke="#f29bb0" stroke-width="0.7"/>
<path d="M149.7,428.8 C144.4,426.2 137.8,427.5 133.9,431.5" fill="none" stroke="#f29bb0" stroke-width="0.7"/>
<path d="M141.8,438.7 C137.8,434.1 131.2,432.8 126.0,435.4" fill="none" stroke="#f29bb0" stroke-width="0.7"/>
<path d="M93.0,432.8 C98.3,428.8 104.9,430.1 107.5,432.8" fill="none" stroke="#f29bb0" stroke-width="0.7"/>
<path d="M81.1,426.2 C86.4,423.5 91.7,425.5 93.6,428.8" fill="none" stroke="#f29bb0" stroke-width="0.7"/>
<path d="M133.9,413.0 C137.8,410.3 143.1,411.7 145.8,414.3" fill="none" stroke="#f29bb0" stroke-width="0.7"/>
<line x1="109.1" y1="405.7" x2="109.1" y2="432.2" stroke="#6d7b8c" stroke-width="1.1"/>
<line x1="102.8" y1="412.0" x2="129.3" y2="412.0" stroke="#6d7b8c" stroke-width="1.1"/>
<line x1="113.7" y1="405.7" x2="113.7" y2="432.2" stroke="#6d7b8c" stroke-width="1.1"/>
<line x1="102.8" y1="416.6" x2="129.3" y2="416.6" stroke="#6d7b8c" stroke-width="1.1"/>
<line x1="118.4" y1="405.7" x2="118.4" y2="432.2" stroke="#6d7b8c" stroke-width="1.1"/>
<line x1="102.8" y1="421.3" x2="129.3" y2="421.3" stroke="#6d7b8c" stroke-width="1.1"/>
<line x1="123.0" y1="405.7" x2="123.0" y2="432.2" stroke="#6d7b8c" stroke-width="1.1"/>
<line x1="102.8" y1="425.9" x2="129.3" y2="425.9" stroke="#6d7b8c" stroke-width="1.1"/>
<rect x="106.8" y="409.7" width="18.5" height="18.5" rx="0.8" fill="#2ec652" stroke="#25a845" stroke-width="0.5"/>
<text x="116.0" y="423.4" font-size="12.5" fill="#e2ffe0" text-anchor="middle">Ai</text>
<path d="M194.1,418 L232,411 L243.8,409.4 L242.3,457.8 L196.1,458.5Z" fill="#c9a6e3"/>
<rect x="198.3" y="393.2" width="33.8" height="59" rx="4" fill="#74dcf5" stroke="#2a6f96" stroke-width="1.5"/>
<rect x="185.3" y="387.9" width="16.2" height="24.4" fill="#ecd3c3"/><rect x="188.8" y="390.5" width="17.2" height="24.5" fill="#f4e0d2"/>
<line x1="190.5" y1="394.0" x2="204.5" y2="394.0" stroke="#e2c5b3" stroke-width="0.6"/>
<line x1="190.5" y1="396.9" x2="204.5" y2="396.9" stroke="#e2c5b3" stroke-width="0.6"/>
<line x1="190.5" y1="399.8" x2="204.5" y2="399.8" stroke="#e2c5b3" stroke-width="0.6"/>
<line x1="190.5" y1="402.7" x2="204.5" y2="402.7" stroke="#e2c5b3" stroke-width="0.6"/>
<line x1="190.5" y1="405.6" x2="204.5" y2="405.6" stroke="#e2c5b3" stroke-width="0.6"/>
<line x1="190.5" y1="408.5" x2="204.5" y2="408.5" stroke="#e2c5b3" stroke-width="0.6"/>
<line x1="190.5" y1="411.4" x2="204.5" y2="411.4" stroke="#e2c5b3" stroke-width="0.6"/>
<rect x="208" y="400" width="12" height="1.6" fill="#3aa7d6"/>
<polyline points="206,410 209.5,413 213,411 216,416 220,413 224,418 228,415" fill="none" stroke="#255a78" stroke-width="0.9"/>
<rect x="203.4" y="418.1" width="2.5" height="11.5" fill="#27b845"/>
<rect x="207.2" y="420.1" width="2.5" height="9.5" fill="#27b845"/>
<rect x="210.9" y="423.6" width="2.5" height="6" fill="#27b845"/>
<rect x="214.7" y="426.1" width="2.5" height="3.5" fill="#27b845"/>
<rect x="218.4" y="427.6" width="2.5" height="2" fill="#27b845"/>
<rect x="222.2" y="427.0" width="2.5" height="2.6" fill="#27b845"/>
<rect x="204" y="432.5" width="8" height="4" fill="#9fe0f7"/><rect x="214" y="432.5" width="8" height="4" fill="#9fe0f7"/>
<circle cx="214.9" cy="445.2" r="4.2" fill="#e9faff"/>
<rect x="226.3" y="418.8" width="19" height="17.2" rx="6.5" fill="#1b49b3"/>
<rect x="228.3" y="422.6" width="15" height="9" rx="4.5" fill="#152a7a"/>
<circle cx="232.6" cy="427.2" r="2.3" fill="#a9ecf7"/><circle cx="239" cy="427.2" r="2.3" fill="#a9ecf7"/>
<path d="M224.7,446 Q224.7,437.3 233,437.3 L238.5,437.3 Q246.6,437.3 246.6,446 L246.6,453 Q246.6,457.1 242,457.1 L229,457.1 Q224.7,457.1 224.7,453Z" fill="#1f6fdb"/>
<path d="M236,440 Q243.5,441 243.5,449 L243.5,455 L237,455Z" fill="#1b5cc4"/>
<path d="M231.2,439.5 L234.4,439.5 L235,454 L232.8,457 L230.6,454Z" fill="#f3c51c"/>
<rect x="234" y="391" width="2.6" height="3" fill="none" stroke="#2fae4a" stroke-width="0.9"/>
<rect x="238.5" y="391" width="2.6" height="3" fill="none" stroke="#2fae4a" stroke-width="0.9"/>
<rect x="241" y="394.5" width="2.6" height="3" fill="none" stroke="#2fae4a" stroke-width="0.9"/>
<rect x="236" y="397.5" width="2.6" height="3" fill="none" stroke="#2fae4a" stroke-width="0.9"/>
<rect x="240.5" y="400.5" width="2.6" height="3" fill="none" stroke="#2fae4a" stroke-width="0.9"/>
<rect x="187.5" y="435" width="2.6" height="3" fill="none" stroke="#2fae4a" stroke-width="0.9"/>
<rect x="192.5" y="435" width="2.6" height="3" fill="none" stroke="#2fae4a" stroke-width="0.9"/>
<rect x="189.5" y="440" width="2.6" height="3" fill="none" stroke="#2fae4a" stroke-width="0.9"/>
<rect x="194" y="441" width="2.6" height="3" fill="none" stroke="#2fae4a" stroke-width="0.9"/>
<rect x="187.5" y="445" width="2.6" height="3" fill="none" stroke="#2fae4a" stroke-width="0.9"/>
<rect x="193" y="446" width="2.6" height="3" fill="none" stroke="#2fae4a" stroke-width="0.9"/>
<path d="M70.9,492.6 L143.3,487.4 L142.8,508.3 L126.7,508.3 L126.7,527.2 L76.7,530.6Z" fill="#d7a6e8" />
<line x1="67.5" y1="546.3" x2="170" y2="546.3" stroke="#c9ccd3" stroke-width="1"/>
<path d="M78.0,518.9 L86.4,518.9 L85.8,532.8 L86.2,546.1 L82.8,546.1 L82.2,532.8 L81.3,546.1 L77.8,546.1 L78.7,532.8Z" fill="#1f80e4" />
<path d="M76.7,546.1 L81.7,546.1 L81.7,546.8 L76.7,546.8Z M82.0,546.1 L86.4,546.1 L86.4,546.8 L82.0,546.8Z" fill="#1b4fa5" />
<path d="M78.3,497.8 Q82.2,496.1 87.2,497.8 L86.9,508.3 L86.2,519.4 L78.2,519.4 L78.4,508.3Z" fill="#4fb9f1" />
<path d="M78.7,507.2 L86.7,507.2 L86.4,514.1 L78.9,514.1Z" fill="#1d5fc9" />
<path d="M76.7,498.9 L79.1,497.8 L79.1,508.3 L75.6,508.3Z" fill="#1b62cf" />
<path d="M86.7,498.9 L93.3,503.9 L97.2,497.8 L98.9,498.6 L94.7,506.7 L86.4,502.8Z" fill="#2a7fe3" />
<ellipse cx="83.3" cy="491.8" rx="2.7" ry="3.5" fill="#42b2ee"/>
<path d="M86.7,501.7 L93.3,501.7 L93.3,511.7 L86.7,511.7Z" fill="#d9433c" />
<path d="M102.8,493.3 L105.9,493.3 L105.9,496.0 L102.8,496.0Z" fill="none" stroke="#9ccfa5" stroke-width="0.8"/>
<path d="M106.7,497.8 L109.8,497.8 L109.8,500.4 L106.7,500.4Z" fill="none" stroke="#9ccfa5" stroke-width="0.8"/>
<path d="M110.6,501.7 L113.7,501.7 L113.7,504.3 L110.6,504.3Z" fill="none" stroke="#9ccfa5" stroke-width="0.8"/>
<path d="M119.4,500.0 L122.6,500.0 L122.6,502.7 L119.4,502.7Z" fill="none" stroke="#9ccfa5" stroke-width="0.8"/>
<path d="M96.7,510.0 L109.4,510.0 L109.4,519.4 L96.7,519.4Z M114.1,510.0 L125.8,510.0 L125.8,519.4 L114.1,519.4Z" fill="#f8d835" />
<path d="M101.3,510.0 L104.7,510.0 L104.7,512.2 L101.3,512.2Z M118.3,510.0 L121.7,510.0 L121.7,512.2 L118.3,512.2Z" fill="#e9bf22" />
<rect x="92.2" y="519.4" width="36" height="6.8" rx="3.4" fill="#66788a"/>
<circle cx="96.2" cy="522.8" r="1.5" fill="#8d9cab"/>
<circle cx="100.7" cy="522.8" r="1.5" fill="#8d9cab"/>
<circle cx="105.2" cy="522.8" r="1.5" fill="#8d9cab"/>
<circle cx="109.7" cy="522.8" r="1.5" fill="#8d9cab"/>
<circle cx="114.2" cy="522.8" r="1.5" fill="#8d9cab"/>
<circle cx="118.7" cy="522.8" r="1.5" fill="#8d9cab"/>
<circle cx="123.2" cy="522.8" r="1.5" fill="#8d9cab"/>
<path d="M103.3,527.2 L126.7,527.2 L126.7,546.1 L103.3,546.1Z" fill="#0f52b8" />
<path d="M111.1,527.2 L145.6,527.2 L145.6,546.1 L111.1,546.1Z" fill="#1682ea" />
<path d="M126.1,504.4 L142.4,504.4 L151.7,515.0 L151.7,530.6 L126.1,530.6Z" fill="#137ae3" />
<path d="M133.9,513.9 L147.8,513.9 L147.8,521.7 L133.9,521.7Z" fill="#1348a8" />
<path d="M138.3,522.8 L142.8,522.8 L142.8,530.0 L138.3,530.0Z" fill="#52c6f8" />
<path d="M136.1,540.6 L141.7,540.6 L141.7,545.6 L136.1,545.6Z" fill="#0f62cf" />
<path d="M128.9,515.9 L133.3,515.9 L133.3,517.0 L128.9,517.0Z" fill="#7fd2f7" />
<path d="M151.7,524.4 Q161.7,525.0 161.7,535.0 L161.7,545.7" fill="none" stroke="#6f7786" stroke-width="3.2"/>
<path d="M158.7,545.0 L164.7,545.0 L164.7,546.6 L158.7,546.6Z" fill="#6f7786" />
<path d="M196.1,492.8 L246.7,490.6 L243.9,530.0 L203.3,531.7Z" fill="#d4a5e6" />
<line x1="199" y1="546.6" x2="252" y2="546.6" stroke="#c9ccd3" stroke-width="1"/>
<line x1="218.2" y1="480.3" x2="218.2" y2="509.4" stroke="#6d7b8c" stroke-width="1.1"/>
<line x1="210.6" y1="487.9" x2="239.7" y2="487.9" stroke="#6d7b8c" stroke-width="1.1"/>
<line x1="222.8" y1="480.3" x2="222.8" y2="509.4" stroke="#6d7b8c" stroke-width="1.1"/>
<line x1="210.6" y1="492.5" x2="239.7" y2="492.5" stroke="#6d7b8c" stroke-width="1.1"/>
<line x1="227.5" y1="480.3" x2="227.5" y2="509.4" stroke="#6d7b8c" stroke-width="1.1"/>
<line x1="210.6" y1="497.2" x2="239.7" y2="497.2" stroke="#6d7b8c" stroke-width="1.1"/>
<line x1="232.1" y1="480.3" x2="232.1" y2="509.4" stroke="#6d7b8c" stroke-width="1.1"/>
<line x1="210.6" y1="501.8" x2="239.7" y2="501.8" stroke="#6d7b8c" stroke-width="1.1"/>
<rect x="215.9" y="485.6" width="18.5" height="18.5" rx="0.8" fill="#2ec652" stroke="#25a845" stroke-width="0.5"/>
<text x="225.2" y="499.5" font-size="13" fill="#e2ffe0" text-anchor="middle">Ai</text>
<path d="M202.8,544.4 L222.2,544.4 L222.2,546.7 L202.8,546.7Z" fill="#1a5fc4" />
<path d="M205.6,533.3 L218.9,533.3 L218.9,544.4 L205.6,544.4Z" fill="#1c7be0" />
<path d="M208.3,520.0 L217.2,520.0 L217.2,533.3 L208.3,533.3Z" fill="#1a72d8" />
<path d="M210.8,511.7 L214.1,512.8 L214.8,520.0 L210.8,520.0Z" fill="#4a8fe0" />
<circle cx="212.2" cy="512.5" r="2.4" fill="#7f93b8"/>
<path d="M198.1,501.1 L203.7,497.0 L213.0,510.3 L208.1,513.7Z" fill="#1c7be0" />
<path d="M196.7,502.8 L201.7,498.6 L204.1,501.7 L199.2,505.9Z" fill="#1565cf" />
<path d="M204.6,499.0 L207.9,496.3 L208.3,497.0 L205.4,500.1Z" fill="#5a6b86" />
<path d="M228.9,544.4 L242.8,544.4 L242.8,546.7 L228.9,546.7Z" fill="#1a5fc4" />
<path d="M231.7,537.2 L240.6,537.2 L240.6,544.4 L231.7,544.4Z" fill="#1c7be0" />
<path d="M232.8,527.8 L239.4,527.8 L239.4,537.2 L232.8,537.2Z" fill="#1a72d8" />
<path d="M234.8,538.6 L239.7,538.6 L239.7,539.9 L234.8,539.9Z" fill="#d6ecff" />
<path d="M235.0,522.8 L237.2,522.2 L238.1,527.8 L234.6,527.8Z" fill="#4a8fe0" />
<path d="M235.2,522.6 L241.1,513.9 L243.0,515.2 L237.2,523.9Z" fill="#6b83b3" />
<circle cx="236.2" cy="523" r="2" fill="#7f93b8"/>
<path d="M238.1,510.8 L241.7,507.9 L249.2,515.2 L245.9,518.6Z" fill="#1c7be0" />
<path d="M238.6,508.9 L240.1,507.4 L241.9,509.4 L240.3,510.8Z" fill="#2a4f9c" /></g>
<text x="31.9" y="651" font-size="18.4" font-weight="bold" fill="#000" textLength="109.4" lengthAdjust="spacingAndGlyphs" >Key Players:</text>
<rect x="16.3" y="670.3" width="347.5" height="50" fill="#76b531"/>
<text x="46.9" y="699.4" font-size="21.5" font-weight="bold" fill="#111" textLength="261" lengthAdjust="spacing" >US: +1 551 226 6109</text>
<rect x="376.3" y="668" width="887.7" height="50" fill="#000"/>
<text x="386.5" y="700" font-size="21.6" font-weight="normal" fill="#fff" textLength="343.8" lengthAdjust="spacingAndGlyphs" >Email: info@insightaceanalytic.com</text>
<circle cx="179" cy="637.5" r="21.7" fill="none" stroke="#1c8184" stroke-width="2"/>
<path d="M165.5,630.2 C166.2,638.9 178.1,644.6 188,636.8 C195,630.5 192.2,620.7 186.8,618.1" fill="none" stroke="#1c8184" stroke-width="1.9"/>
<path d="M168.3,654.4 C163.4,646 165.5,636.1 174.6,633 C183.8,630.2 190.8,636.1 192.2,645.3" fill="none" stroke="#1c8184" stroke-width="1.9"/>
<text x="208" y="632.6" font-size="21.6" fill="#1c8184" stroke="#1c8184" stroke-width="0.25" textLength="54.5" lengthAdjust="spacingAndGlyphs">deep</text>
<text x="208" y="650.9" font-size="21.6" fill="#1c8184" stroke="#1c8184" stroke-width="0.25" textLength="108" lengthAdjust="spacingAndGlyphs">genomics</text>
<path d="M418.7,612.0 L443.59999999999997,636.9 L418.7,661.8 L393.8,636.9Z" fill="#45a84a"/>
<path d="M418.7,614.0 L441.59999999999997,636.9 L418.7,659.8 L395.8,636.9Z" fill="none" stroke="#8ed08f" stroke-width="0.8"/>
<path d="M418.7,617.5 L422.09999999999997,622.3 L418.7,627.0999999999999 L415.3,622.3Z" fill="#2f8f38"/>
<path d="M433.3,633.5 L438.1,636.9 L433.3,640.3 L428.5,636.9Z" fill="#2f8f38"/>
<path d="M418.7,646.7 L422.09999999999997,651.5 L418.7,656.3 L415.3,651.5Z" fill="#2f8f38"/>
<path d="M404.09999999999997,633.5 L408.9,636.9 L404.09999999999997,640.3 L399.29999999999995,636.9Z" fill="#2f8f38"/>
<rect x="408.1" y="625.4" width="3.8" height="3.8" fill="#2f8f38"/>
<rect x="425.5" y="625.4" width="3.8" height="3.8" fill="#2f8f38"/>
<rect x="425.5" y="644.6" width="3.8" height="3.8" fill="#2f8f38"/>
<rect x="408.1" y="644.6" width="3.8" height="3.8" fill="#2f8f38"/>
<path d="M418.7,617.9 L437.7,636.9 L418.7,655.9 L399.7,636.9Z" fill="none" stroke="#8ed08f" stroke-width="0.6" stroke-dasharray="1 1"/>
<rect x="411.8" y="628.6" width="13.8" height="16.4" fill="#3b9c43" stroke="#c5ebc6" stroke-width="1.1"/>
<path d="M417.0,631.3 L420.4,631.3 L420.4,635.9 L423.59999999999997,641.1 Q423.9,641.9 422.9,641.9 L419.59999999999997,641.9 L419.59999999999997,643.1999999999999 L417.8,643.1999999999999 L417.8,641.9 L414.5,641.9 Q413.5,641.9 413.8,641.1 L417.0,635.9Z" fill="#fff"/>
<text x="449.7" y="632.7" font-size="12.6" font-weight="bold" fill="#1a1a1a" textLength="47" lengthAdjust="spacingAndGlyphs">Insilico</text>
<text x="449.7" y="647.7" font-size="12.6" font-weight="bold" fill="#1a1a1a" textLength="59.4" lengthAdjust="spacingAndGlyphs">Medicine</text>
<defs><linearGradient id="aw" x1="0" y1="0" x2="0" y2="1"><stop offset="0" stop-color="#2cc3cb"/><stop offset="1" stop-color="#20c56f"/></linearGradient></defs>
<g stroke-linecap="round" fill="none">
<line x1="590.3" y1="643.2" x2="605.5" y2="631.5" stroke="#fff" stroke-width="8.4"/>
<circle cx="590.3" cy="643.2" r="6.2" fill="#fff"/>
<line x1="590.3" y1="643.2" x2="605.5" y2="631.5" stroke="#27c4a0" stroke-width="6.4"/>
<circle cx="590.3" cy="643.2" r="5.2" fill="#22c58b"/>
<line x1="619" y1="654" x2="598.4" y2="647.7" stroke="#fff" stroke-width="8.4"/>
<circle cx="619" cy="654" r="6.2" fill="#fff"/>
<line x1="619" y1="654" x2="598.4" y2="647.7" stroke="#21c67d" stroke-width="6.4"/>
<circle cx="619" cy="654" r="5.2" fill="#20c672"/>
<line x1="611.8" y1="626.2" x2="617.2" y2="648.6" stroke="#fff" stroke-width="8.4"/>
<circle cx="611.8" cy="626.2" r="6.2" fill="#fff"/>
<line x1="611.8" y1="626.2" x2="617.2" y2="648.6" stroke="#27c4a8" stroke-width="6.4"/>
<circle cx="611.8" cy="626.2" r="5.2" fill="#2cc3cb"/>
</g>
<text x="635.7" y="651" font-size="32" font-weight="bold" fill="#222" textLength="155" lengthAdjust="spacingAndGlyphs">Atomwise</text>
<rect x="864" y="622" width="163" height="46.5" fill="#fff"/>
<path d="M886.40,631.90 L875.14,638.40 L875.14,651.40 L886.40,657.90Z" fill="#1b5bb0" stroke="#fff" stroke-width="0.9"/>
<path d="M886.40,657.90 L897.66,651.40 L897.66,638.40 L886.40,631.90Z" fill="#3fa7ee" stroke="#fff" stroke-width="0.9"/>
<path d="M886.40,635.30 L878.09,640.10 L878.09,649.70 L886.40,654.50Z" fill="#2a6fc4" stroke="#fff" stroke-width="0.9"/>
<path d="M886.40,654.50 L894.71,649.70 L894.71,640.10 L886.40,635.30Z" fill="#62c0f6" stroke="#fff" stroke-width="0.9"/>
<path d="M886.40,638.70 L881.03,641.80 L881.03,648.00 L886.40,651.10Z" fill="#1b5bb0" stroke="#fff" stroke-width="0.9"/>
<path d="M886.40,651.10 L891.77,648.00 L891.77,641.80 L886.40,638.70Z" fill="#3fa7ee" stroke="#fff" stroke-width="0.9"/>
<path d="M886.40,641.90 L883.80,643.40 L883.80,646.40 L886.40,647.90Z" fill="#2a6fc4" stroke="#fff" stroke-width="0.9"/>
<path d="M886.40,647.90 L889.00,646.40 L889.00,643.40 L886.40,641.90Z" fill="#8bd4fa" stroke="#fff" stroke-width="0.9"/>
<text x="905.7" y="651.8" font-size="20" font-weight="bold" fill="#1a5cb0" textLength="109" lengthAdjust="spacingAndGlyphs">Schrödinger</text>
<circle cx="1110.8" cy="648.8" r="12.6" fill="#d4174f"/>
<text x="1110.8" y="655.6" font-size="23" fill="#fff" text-anchor="middle">e</text>
<text x="1127" y="654.1" font-size="20.6" fill="#5c1a52" textLength="124.2" lengthAdjust="spacingAndGlyphs">therapeutics</text>
<rect x="928" y="671" width="5" height="5.1" fill="#7ab83a"/><path d="M928,678.8 L931.5,678.8 C938,680 943,688 943,694 L943,704.8 L938,704.8 L938,695.6 L933,695.6 L933,704.8 L928,704.8Z" fill="#fff"/><path d="M933,686 C936,688 938,691 938,693.4 L933,693.4Z" fill="#000"/>
<text x="962.4" y="697.7" font-size="16.2" font-weight="bold" fill="#fff" textLength="283.5" lengthAdjust="spacing" >INSIGHT ACE ANALYTIC</text>
</svg>
</body></html>
